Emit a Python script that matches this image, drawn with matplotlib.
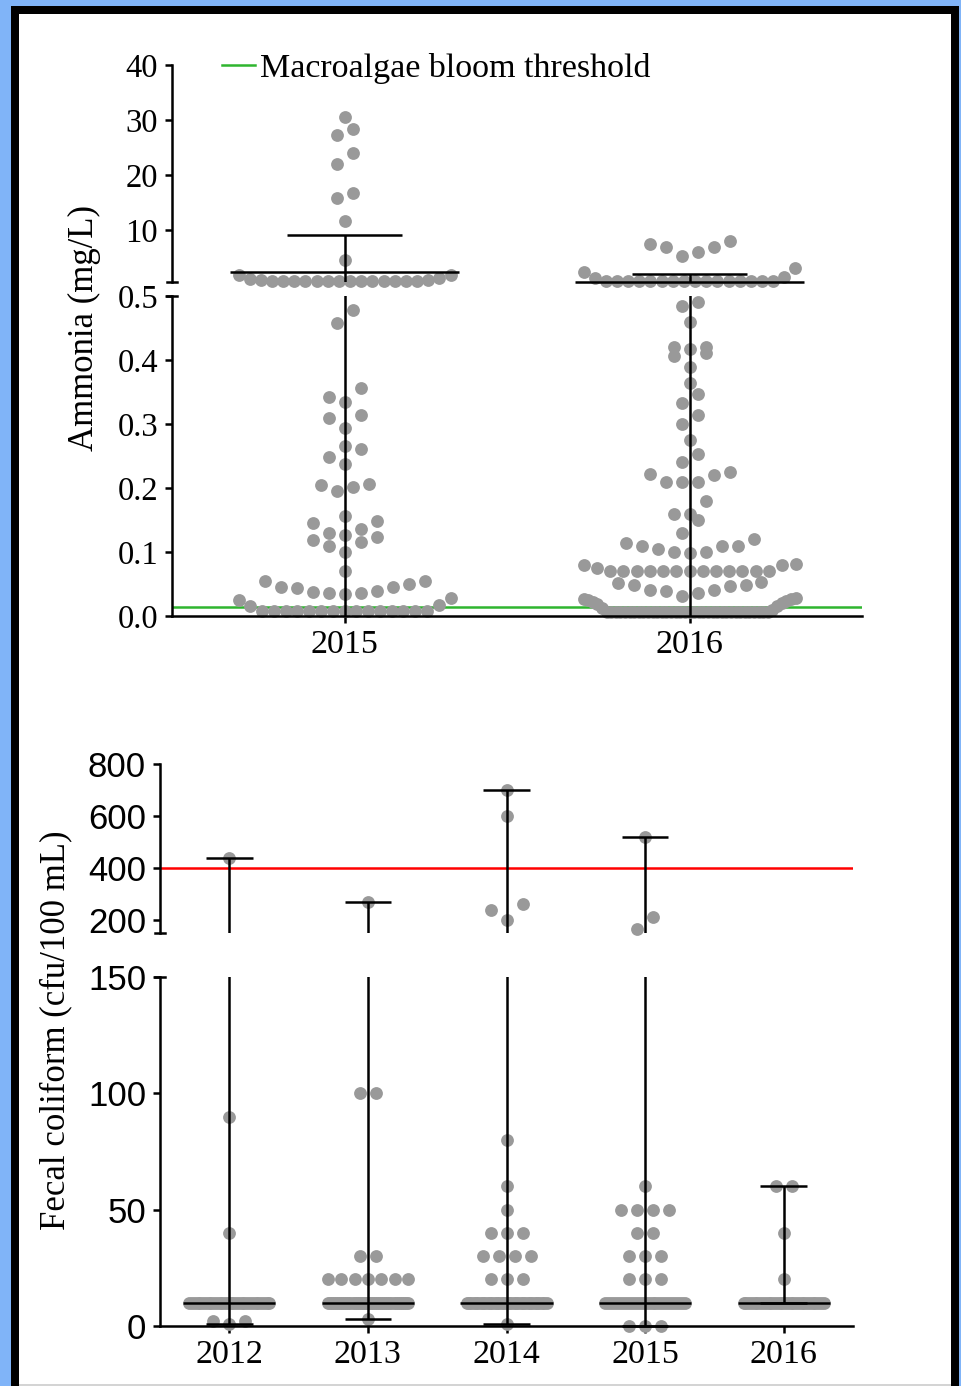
import numpy as np
import matplotlib
matplotlib.use('Agg')
import matplotlib.pyplot as plt
from matplotlib.patches import Rectangle
from matplotlib.lines import Line2D

# ---------------- data ----------------
# ammonia (mg/L), one list per sampling year
amm_years = ['2015', '2016']
amm_2015 = ([30.6, 28.4, 27.3, 24.0, 22.0, 16.7, 15.8, 11.6, 4.5, 1.8, 1.8]
            + [0.7] * 14 + [0.8, 0.9, 1.0, 1.2]
            + [0.478, 0.458, 0.356, 0.342, 0.334, 0.314, 0.309, 0.294, 0.266,
               0.261, 0.248, 0.238, 0.207, 0.205, 0.202, 0.195, 0.156, 0.149,
               0.146, 0.136, 0.130, 0.127, 0.123, 0.118, 0.115, 0.110, 0.100,
               0.071, 0.055, 0.055, 0.050, 0.046, 0.046, 0.044, 0.039, 0.037,
               0.036, 0.036, 0.034, 0.028, 0.025, 0.017, 0.015]
            + [0.008] * 15)
amm_2016 = ([8.0, 7.5, 6.9, 6.8, 6.0, 5.3, 3.1, 2.4]
            + [0.7] * 16 + [1.3, 1.4]
            + [0.491, 0.484, 0.459, 0.421, 0.421, 0.417, 0.411, 0.406, 0.389,
               0.364, 0.347, 0.333, 0.314, 0.300, 0.275, 0.253, 0.241, 0.225,
               0.222, 0.220, 0.209, 0.209, 0.209, 0.180, 0.159, 0.159, 0.150,
               0.130, 0.120, 0.114, 0.109, 0.109, 0.109, 0.105, 0.100, 0.100,
               0.098, 0.081, 0.080, 0.080, 0.075]
            + [0.071] * 13
            + [0.053, 0.051, 0.048, 0.048, 0.047, 0.041, 0.041, 0.039, 0.036,
               0.032, 0.028, 0.026, 0.026, 0.025, 0.024, 0.022, 0.020, 0.018,
               0.015, 0.012, 0.010]
            + [0.006] * 36)
ammonia_threshold = 0.014

# fecal coliform (cfu/100 mL)
fec_years = ['2012', '2013', '2014', '2015', '2016']
fec_2012 = [440, 90, 40] + [10] * 30 + [2, 1, 2]
fec_2013 = [270, 100, 100, 30, 30] + [20] * 7 + [10] * 40 + [3]
fec_2014 = ([700, 600, 260, 240, 200, 80, 60, 50, 40, 40, 40, 30, 30, 30, 30,
             20, 20, 20] + [10] * 35 + [1])
fec_2015 = ([520, 210, 165, 60, 50, 50, 50, 50, 40, 40, 30, 30, 30, 20, 20, 20]
            + [10] * 28 + [0, 0, 0])
fec_2016 = [60, 60, 40, 20] + [10] * 30
fecal_limit = 400

# ---------------- style ----------------
W, H = 961, 1386
GRAY = '#999999'
GREEN = '#2fb52f'
LW = 1.8
DOT = 85
plt.rcParams['font.family'] = ['Liberation Serif', 'DejaVu Serif']


def px_axes(fig, left, top, right, bottom):
    return fig.add_axes([left / W, 1 - bottom / H, (right - left) / W, (bottom - top) / H])


def row_offsets(ypix, maxhw, step=16.0, thr=16.0):
    # prism-like rows: points close in y share a row, centred, low values in the middle
    ypix = np.asarray(ypix, float)
    order = np.argsort(ypix, kind='stable')
    offs = np.zeros(len(ypix))
    i = 0
    while i < len(order):
        j = i
        while j < len(order) and ypix[order[j]] - ypix[order[i]] < thr:
            j += 1
        idx = order[i:j]
        k = len(idx)
        s = step if k < 2 else min(step, 2 * maxhw / (k - 1))
        pos = (np.arange(k) - (k - 1) / 2) * s
        pos = pos[np.lexsort((pos, np.abs(pos)))]
        offs[idx] = pos
        i = j
    return offs


def draw_points(ax_hi, ax_lo, i, vals, split, maxhw, cat_px):
    vals = np.asarray(vals, float)
    hi = vals > split
    for ax, m in ((ax_hi, hi), (ax_lo, ~hi)):
        v = vals[m]
        if len(v) == 0:
            continue
        ypix = ax.transData.transform(np.column_stack([np.full(len(v), i), v]))[:, 1]
        dx = row_offsets(ypix, maxhw) / cat_px
        ax.scatter(i + dx, v, s=DOT, color=GRAY, linewidths=0, zorder=2, clip_on=False)


def hbar(axes, y, x0, x1):
    # horizontal bar drawn unclipped in the segment that holds it
    for ax in axes:
        lo, hi = ax.get_ylim()
        if lo <= y <= hi:
            ax.hlines(y, x0, x1, color='k', lw=LW, zorder=3, clip_on=False)
            return


def draw_bars(axes, i, center, lo, hi, wide=0.333, cap=0.168):
    for ax in axes:
        ax.vlines(i, lo, hi, color='k', lw=LW, zorder=3)
    hbar(axes, center, i - wide, i + wide)
    hbar(axes, lo, i - cap, i + cap)
    hbar(axes, hi, i - cap, i + cap)


def style_axes(ax, upper, width_px):
    ax.spines['top'].set_visible(False)
    ax.spines['right'].set_visible(False)
    ax.spines['left'].set_linewidth(LW)
    ax.spines['bottom'].set_linewidth(LW)
    ax.tick_params(width=LW, length=5, direction='out', colors='k', pad=5)
    ax.patch.set_alpha(0)
    if upper:
        ax.spines['bottom'].set_visible(False)
        ax.set_xticks([])
    # break marks at the cut
    yb = ax.get_ylim()[0] if upper else ax.get_ylim()[1]
    ax.plot([-5 / width_px, 5 / width_px], [yb, yb], color='k', lw=LW,
            transform=ax.get_yaxis_transform(), clip_on=False)


fig = plt.figure(figsize=(W / 100, H / 100), dpi=100)
fig.patch.set_facecolor('#80b4f8')
fig.add_artist(Rectangle((11 / W, 0), 948 / W, 1 - 6 / H, transform=fig.transFigure,
                         facecolor='black', edgecolor='none', zorder=-3))
fig.add_artist(Rectangle((19 / W, 0), 932 / W, 1 - 14 / H, transform=fig.transFigure,
                         facecolor='white', edgecolor='none', zorder=-2))
fig.add_artist(Rectangle((19 / W, 0), 932 / W, 2 / H, transform=fig.transFigure,
                         facecolor='#d4d4d4', edgecolor='none', zorder=-1))

# ---------------- ammonia panel ----------------
a_hi = px_axes(fig, 172, 65, 862, 282)
a_lo = px_axes(fig, 172, 296, 862, 616)
for ax in (a_hi, a_lo):
    ax.set_xlim(-0.5, 1.5)
a_hi.set_ylim(0.5, 40)
a_lo.set_ylim(0, 0.5)
a_hi.set_yticks([10, 20, 30, 40])
a_lo.set_yticks([0, 0.1, 0.2, 0.3, 0.4, 0.5])
a_lo.set_yticklabels(['%.1f' % t for t in a_lo.get_yticks()])
a_lo.set_xticks(range(len(amm_years)))
a_lo.set_xticklabels(amm_years)
for ax in (a_hi, a_lo):
    ax.tick_params(axis='y', labelsize=23.5)
a_lo.tick_params(axis='x', labelsize=24.5, pad=7)
style_axes(a_hi, True, 690)
style_axes(a_lo, False, 690)

a_lo.axhline(ammonia_threshold, color=GREEN, lw=LW, zorder=1.5)
for i, vals in enumerate([amm_2015, amm_2016]):
    draw_points(a_hi, a_lo, i, vals, 0.5, 106, 345)
    m, sd = np.mean(vals), np.std(vals, ddof=1)
    draw_bars((a_hi, a_lo), i, m, m - sd, m + sd)

a_hi.legend(handles=[Line2D([], [], color=GREEN, lw=LW)],
            labels=['Macroalgae bloom threshold'], loc='center left',
            bbox_to_anchor=(0.0725, 0.986), frameon=False, fontsize=24.5,
            handlelength=0.97, handletextpad=0.15, borderpad=0, borderaxespad=0)
fig.text(84 / W, 1 - 328 / H, 'Ammonia (mg/L)', rotation=90, ha='center',
         va='center', fontsize=25)

# ---------------- fecal coliform panel ----------------
f_hi = px_axes(fig, 160, 764, 853, 933)
f_lo = px_axes(fig, 160, 977, 853, 1326)
for ax in (f_hi, f_lo):
    ax.set_xlim(-0.5, 4.5)
f_hi.set_ylim(150, 800)
f_lo.set_ylim(0, 150)
f_hi.set_yticks([200, 400, 600, 800])
f_lo.set_yticks([0, 50, 100, 150])
f_lo.set_xticks(range(len(fec_years)))
f_lo.set_xticklabels(fec_years)
for ax in (f_hi, f_lo):
    ax.tick_params(axis='y', labelsize=25)
    for lab in ax.get_yticklabels():
        lab.set_fontfamily('Liberation Sans')
f_lo.tick_params(axis='x', labelsize=24.5, pad=7)
style_axes(f_hi, True, 693)
style_axes(f_lo, False, 693)

f_hi.axhline(fecal_limit, color='red', lw=LW, zorder=1.5)
for i, vals in enumerate([fec_2012, fec_2013, fec_2014, fec_2015, fec_2016]):
    draw_points(f_hi, f_lo, i, vals, 150, 40, 138.6)
    draw_bars((f_hi, f_lo), i, np.median(vals), min(vals), max(vals))

fig.text(56 / W, 1 - 1030 / H, 'Fecal coliform (cfu/100 mL)', rotation=90,
         ha='center', va='center', fontsize=25)

fig.savefig('out.png', dpi=100, facecolor=fig.get_facecolor())
